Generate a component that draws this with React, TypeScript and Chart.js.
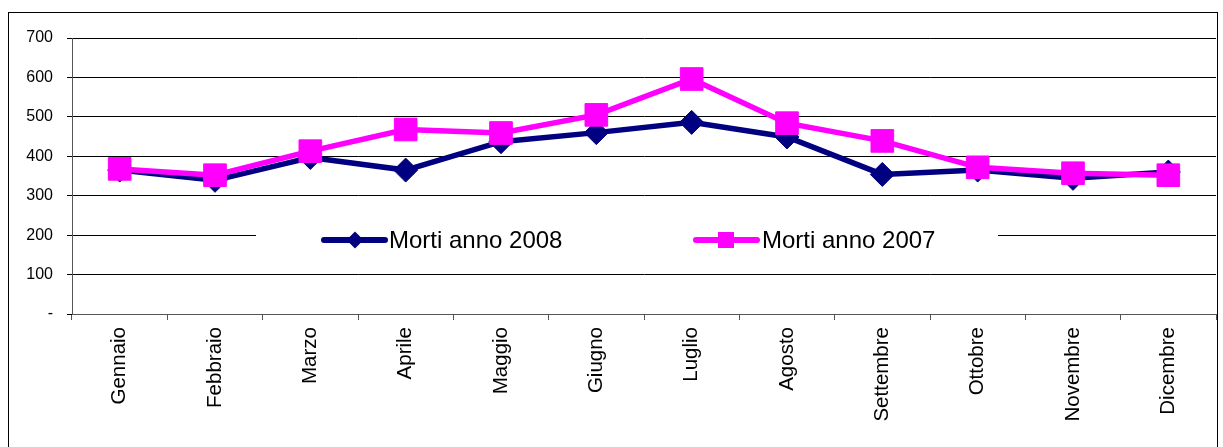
import React, { useEffect, useRef } from "react";
import { Chart, registerables } from "chart.js";

Chart.register(...registerables);

const categories = [
  "Gennaio", "Febbraio", "Marzo", "Aprile", "Maggio", "Giugno",
  "Luglio", "Agosto", "Settembre", "Ottobre", "Novembre", "Dicembre",
];
const morti2008 = [365, 339, 397, 365, 437, 460, 486, 449, 354, 365, 344, 360];
const morti2007 = [368, 352, 413, 468, 459, 505, 596, 484, 439, 372, 357, 352];
const label2008 = "Morti anno 2008";
const label2007 = "Morti anno 2007";
const yTicks = [0, 100, 200, 300, 400, 500, 600, 700];

const NAVY = "#000080";
const MAGENTA = "#FF00FF";
const FONT = "'Liberation Sans', Arial, sans-serif";

const legendPlugin = {
  id: "midLegend",
  afterDraw(chart: any) {
    const ctx = chart.ctx as CanvasRenderingContext2D;
    const ds = chart.data.datasets;
    ctx.save();
    ctx.fillStyle = "#fff";
    ctx.fillRect(256, 222, 742, 36);
    const items = [
      { x0: 324, x1: 385, mx: 355, tx: 389, d: ds[0] },
      { x0: 696, x1: 757, mx: 726, tx: 762, d: ds[1] },
    ];
    const y = 240;
    items.forEach((it) => {
      const col = it.d.borderColor as string;
      ctx.strokeStyle = col;
      ctx.lineWidth = 6;
      ctx.lineCap = "round";
      ctx.beginPath();
      ctx.moveTo(it.x0, y);
      ctx.lineTo(it.x1, y);
      ctx.stroke();
      ctx.fillStyle = col;
      ctx.beginPath();
      if (it.d.pointStyle === "rectRot") {
        const r = 8.5;
        ctx.moveTo(it.mx - r, y);
        ctx.lineTo(it.mx, y - r);
        ctx.lineTo(it.mx + r, y);
        ctx.lineTo(it.mx, y + r);
        ctx.closePath();
      } else {
        const h = 8;
        ctx.rect(it.mx - h, y - h, 2 * h, 2 * h);
      }
      ctx.fill();
      ctx.fillStyle = "#000";
      ctx.font = `24px ${FONT}`;
      ctx.textBaseline = "middle";
      ctx.textAlign = "left";
      ctx.fillText(it.d.label, it.tx, y + 1);
    });
    ctx.restore();
  },
};

export default function App() {
  const ref = useRef<HTMLCanvasElement | null>(null);
  useEffect(() => {
    if (!ref.current) return;
    const chart = new Chart(ref.current, {
      type: "line",
      data: {
        labels: categories,
        datasets: [
          {
            label: label2008,
            data: morti2008,
            borderColor: NAVY,
            backgroundColor: NAVY,
            borderWidth: 5.5,
            pointStyle: "rectRot",
            pointRadius: 12,
            pointBorderWidth: 1,
            pointBorderColor: NAVY,
            pointBackgroundColor: NAVY,
            tension: 0,
            order: 1,
          },
          {
            label: label2007,
            data: morti2007,
            borderColor: MAGENTA,
            backgroundColor: MAGENTA,
            borderWidth: 5.5,
            pointStyle: "rect",
            pointRadius: 16,
            pointBorderWidth: 1,
            pointBorderColor: MAGENTA,
            pointBackgroundColor: MAGENTA,
            tension: 0,
            order: 0,
          },
        ],
      },
      options: {
        animation: false,
        responsive: false,
        maintainAspectRatio: false,
        layout: { autoPadding: false, padding: { left: 0, top: 38, right: 7, bottom: 0 } },
        plugins: {
          legend: { display: false },
          tooltip: { enabled: false },
        },
        scales: {
          x: {
            type: "category",
            offset: true,
            grid: {
              offset: true,
              drawOnChartArea: false,
              drawTicks: true,
              tickLength: 6,
              color: "#555",
            },
            border: { display: true, color: "#555", width: 1 },
            ticks: {
              color: "#000",
              font: { family: FONT, size: 20.5 },
              minRotation: 90,
              maxRotation: 90,
              padding: 7,
              autoSkip: false,
            },
            afterFit(scale: any) {
              scale.height = 133;
              scale.paddingLeft = 0;
              scale.paddingRight = 0;
            },
          },
          y: {
            min: 0,
            max: 700,
            afterBuildTicks(scale: any) {
              scale.ticks = yTicks.map((v) => ({ value: v }));
            },
            grid: {
              color: "#000",
              lineWidth: 1,
              drawTicks: true,
              tickLength: 5,
            },
            border: { display: true, color: "#555", width: 1 },
            ticks: {
              color: "#000",
              font: { family: FONT, size: 16 },
              padding: 14,
              callback: (v: any) => (Number(v) === 0 ? "-" : String(v)),
            },
            afterFit(scale: any) {
              scale.width = 72;
              scale.paddingTop = 0;
              scale.paddingBottom = 0;
            },
          },
        },
      },
      plugins: [legendPlugin],
    });
    return () => chart.destroy();
  }, []);

  return (
    <div style={{ position: "fixed", left: 0, top: 0, width: 1223, height: 447, background: "#fff", overflow: "hidden" }}>
      <div
        style={{
          position: "absolute",
          left: 8,
          top: 12,
          width: 1208,
          height: 450,
          border: "1px solid #000",
        }}
      />
      <canvas ref={ref} width={1223} height={447} style={{ position: "absolute", left: 0, top: 0, width: 1223, height: 447 }} />
    </div>
  );
}
